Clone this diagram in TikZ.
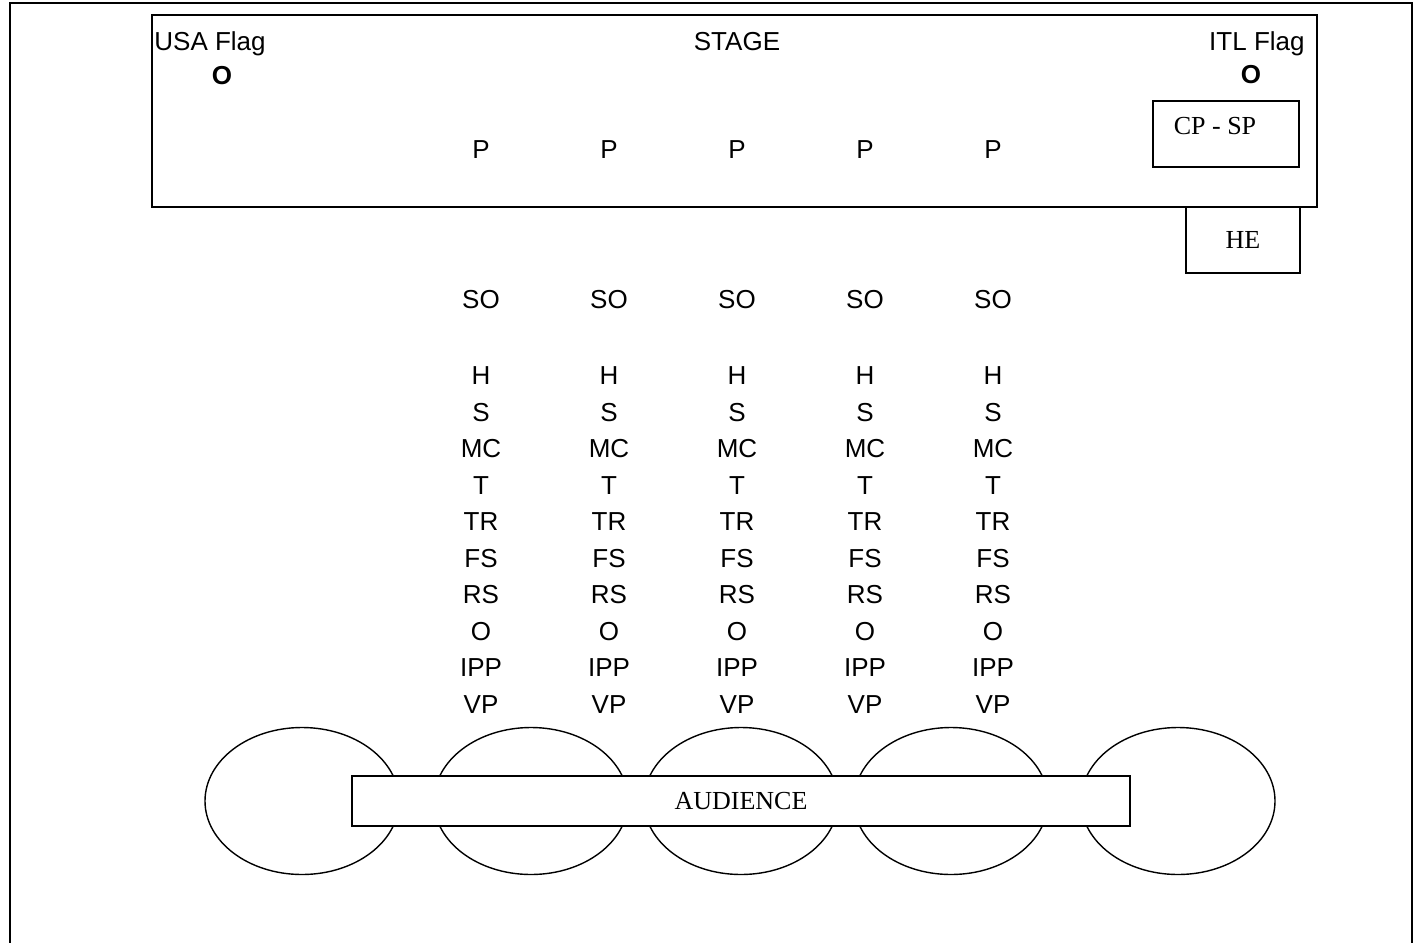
\documentclass[tikz,border=0pt]{standalone}
\usepackage{fontspec}
\setmainfont{Liberation Serif}
\newfontfamily\arialfont{Liberation Sans}
\usetikzlibrary{positioning}

\tikzset{
  lbl/.style={inner sep=0pt, font=\arialfont\fontsize{13}{15}\selectfont},
  serifbox/.style={draw, line width=0.7pt, inner sep=0pt, font=\fontsize{13}{15}\selectfont},
  seat/.style={line width=0.7pt}
}

\begin{document}
\begin{tikzpicture}[x=0.5pt, y=-0.5pt]
      \useasboundingbox (0,0) rectangle (1420,943);
      % hall outline
      \draw[line width=1pt] (10,943) -- (10,3) -- (1412,3) -- (1412,943);

      % stage
      \draw[line width=1.2pt] (152,15) rectangle (1317,207);
      \node[lbl, anchor=base west] (usaflag) at (154,50) {USA Flag};
      \node[lbl, anchor=base east] (itlflag) at (1305,50) {ITL Flag};
      \node[lbl, anchor=base] (stage) at (737,50) {STAGE};
      \node[lbl] (usapole) at (222,76) {\bfseries O};
      \node[lbl] (itlpole) at (1251,75) {\bfseries O};

      % CP - SP and HE boxes
      \node[serifbox, minimum width=73pt, minimum height=33pt] (cpsp) at (1226,134) {};
      \node[inner sep=0pt, font=\fontsize{13}{15}\selectfont] (cpsplbl) at (1215,126) {CP - SP};
      \node[serifbox, minimum width=57pt, minimum height=33pt] (he) at (1243,240) {HE};

      % columns of seats
      \foreach \col [count=\i from 0] in {481,609,737,865,993} {
        \node[lbl] (p\i) at (\col,150) {P};
        \node[lbl] (so\i) at (\col,300) {SO};
        \foreach \txt [count=\r from 0] in {H,S,MC,T,TR,FS,RS,O,IPP,VP}
          \node[lbl] (\txt\i) at (\col,{376+36.5*\r}) {\txt};
      }

      % audience tables
      \foreach \cx in {302,531,741,951,1178}
        \draw[seat] (\cx,801) ellipse [x radius=97, y radius=73.5];
      \node[serifbox, fill=white, minimum width=389pt, minimum height=25pt] (audience) at (741,801) {AUDIENCE};
    \end{tikzpicture}
\end{document}
